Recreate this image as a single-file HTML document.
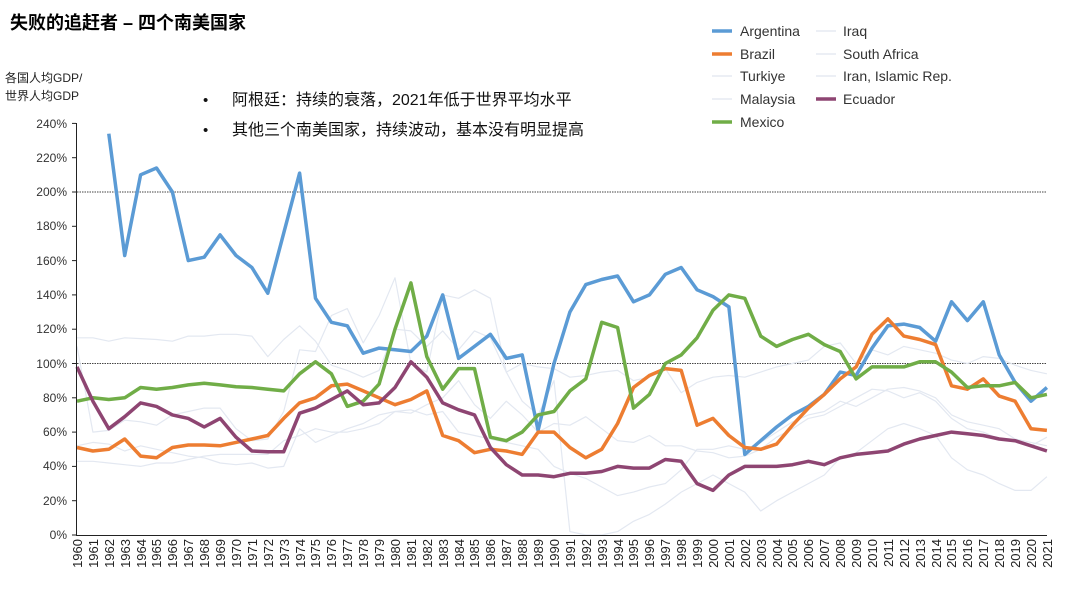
<!DOCTYPE html>
<html><head><meta charset="utf-8"><style>
body{margin:0;background:#fff;}
svg{display:block;font-family:"Liberation Sans","Noto Sans CJK SC",sans-serif;}
</style></head><body>
<svg id="s" width="1080" height="593" viewBox="0 0 1080 593">
<text x="10" y="29" font-size="18" font-weight="bold" fill="#000">失败的追赶者 – 四个南美国家</text>
<text x="5" y="82" font-size="12" fill="#222">各国人均GDP/</text>
<text x="5" y="100" font-size="12" fill="#222">世界人均GDP</text>
<text x="203" y="105" font-size="15" fill="#111">•</text><text x="232" y="105" font-size="16" fill="#111">阿根廷：持续的衰落，2021年低于世界平均水平</text>
<text x="203" y="135" font-size="15" fill="#111">•</text><text x="232" y="135" font-size="16" fill="#111">其他三个南美国家，持续波动，基本没有明显提高</text>
<g font-size="14" fill="#333">
<line x1="712" y1="31" x2="732" y2="31" stroke="#5b9bd5" stroke-width="3.5"/><text x="740" y="36">Argentina</text>
<line x1="712" y1="54" x2="732" y2="54" stroke="#ed7d31" stroke-width="3.5"/><text x="740" y="59">Brazil</text>
<line x1="712" y1="76" x2="732" y2="76" stroke="#e6eaf2" stroke-width="1.5"/><text x="740" y="81">Turkiye</text>
<line x1="712" y1="99" x2="732" y2="99" stroke="#e6eaf2" stroke-width="1.5"/><text x="740" y="104">Malaysia</text>
<line x1="712" y1="122" x2="732" y2="122" stroke="#70ad47" stroke-width="3.5"/><text x="740" y="127">Mexico</text>
<line x1="816" y1="31" x2="836" y2="31" stroke="#e6eaf2" stroke-width="1.5"/><text x="843" y="36">Iraq</text>
<line x1="816" y1="54" x2="836" y2="54" stroke="#e6eaf2" stroke-width="1.5"/><text x="843" y="59">South Africa</text>
<line x1="816" y1="76" x2="836" y2="76" stroke="#e6eaf2" stroke-width="1.5"/><text x="843" y="81">Iran, Islamic Rep.</text>
<line x1="816" y1="99" x2="836" y2="99" stroke="#8e4572" stroke-width="3.5"/><text x="843" y="104">Ecuador</text>
</g>
<g font-size="12" fill="#333" text-anchor="end">
<text x="67" y="539">0%</text><text x="67" y="505">20%</text><text x="67" y="470">40%</text><text x="67" y="436">60%</text><text x="67" y="402">80%</text><text x="67" y="368">100%</text><text x="67" y="333">120%</text><text x="67" y="299">140%</text><text x="67" y="265">160%</text><text x="67" y="230">180%</text><text x="67" y="196">200%</text><text x="67" y="162">220%</text><text x="67" y="128">240%</text>
</g>
<line x1="77" y1="363.5" x2="1047" y2="363.5" stroke="#444" stroke-width="1" stroke-dasharray="1.5,1"/>
<line x1="77" y1="192" x2="1047" y2="192" stroke="#444" stroke-width="1" stroke-dasharray="1.5,1"/>
<g id="lines" fill="none" stroke-linejoin="round"></g>
<line x1="76.5" y1="123" x2="76.5" y2="535" stroke="#222" stroke-width="1"/>
<line x1="76" y1="535.5" x2="1047" y2="535.5" stroke="#222" stroke-width="1"/>
<g id="ticks" stroke="#222"></g>
<g font-size="13" fill="#222" text-anchor="end" id="xl">
<text transform="translate(82,539) rotate(-90)">1960</text><text transform="translate(98,539) rotate(-90)">1961</text><text transform="translate(114,539) rotate(-90)">1962</text><text transform="translate(130,539) rotate(-90)">1963</text><text transform="translate(146,539) rotate(-90)">1964</text><text transform="translate(161,539) rotate(-90)">1965</text><text transform="translate(177,539) rotate(-90)">1966</text><text transform="translate(193,539) rotate(-90)">1967</text><text transform="translate(209,539) rotate(-90)">1968</text><text transform="translate(225,539) rotate(-90)">1969</text><text transform="translate(241,539) rotate(-90)">1970</text><text transform="translate(257,539) rotate(-90)">1971</text><text transform="translate(273,539) rotate(-90)">1972</text><text transform="translate(289,539) rotate(-90)">1973</text><text transform="translate(305,539) rotate(-90)">1974</text><text transform="translate(320,539) rotate(-90)">1975</text><text transform="translate(336,539) rotate(-90)">1976</text><text transform="translate(352,539) rotate(-90)">1977</text><text transform="translate(368,539) rotate(-90)">1978</text><text transform="translate(384,539) rotate(-90)">1979</text><text transform="translate(400,539) rotate(-90)">1980</text><text transform="translate(416,539) rotate(-90)">1981</text><text transform="translate(432,539) rotate(-90)">1982</text><text transform="translate(448,539) rotate(-90)">1983</text><text transform="translate(464,539) rotate(-90)">1984</text><text transform="translate(479,539) rotate(-90)">1985</text><text transform="translate(495,539) rotate(-90)">1986</text><text transform="translate(511,539) rotate(-90)">1987</text><text transform="translate(527,539) rotate(-90)">1988</text><text transform="translate(543,539) rotate(-90)">1989</text><text transform="translate(559,539) rotate(-90)">1990</text><text transform="translate(575,539) rotate(-90)">1991</text><text transform="translate(591,539) rotate(-90)">1992</text><text transform="translate(607,539) rotate(-90)">1993</text><text transform="translate(623,539) rotate(-90)">1994</text><text transform="translate(638,539) rotate(-90)">1995</text><text transform="translate(654,539) rotate(-90)">1996</text><text transform="translate(670,539) rotate(-90)">1997</text><text transform="translate(686,539) rotate(-90)">1998</text><text transform="translate(702,539) rotate(-90)">1999</text><text transform="translate(718,539) rotate(-90)">2000</text><text transform="translate(734,539) rotate(-90)">2001</text><text transform="translate(750,539) rotate(-90)">2002</text><text transform="translate(766,539) rotate(-90)">2003</text><text transform="translate(782,539) rotate(-90)">2004</text><text transform="translate(797,539) rotate(-90)">2005</text><text transform="translate(813,539) rotate(-90)">2006</text><text transform="translate(829,539) rotate(-90)">2007</text><text transform="translate(845,539) rotate(-90)">2008</text><text transform="translate(861,539) rotate(-90)">2009</text><text transform="translate(877,539) rotate(-90)">2010</text><text transform="translate(893,539) rotate(-90)">2011</text><text transform="translate(909,539) rotate(-90)">2012</text><text transform="translate(925,539) rotate(-90)">2013</text><text transform="translate(941,539) rotate(-90)">2014</text><text transform="translate(956,539) rotate(-90)">2015</text><text transform="translate(972,539) rotate(-90)">2016</text><text transform="translate(988,539) rotate(-90)">2017</text><text transform="translate(1004,539) rotate(-90)">2018</text><text transform="translate(1020,539) rotate(-90)">2019</text><text transform="translate(1036,539) rotate(-90)">2020</text><text transform="translate(1052,539) rotate(-90)">2021</text>
</g>
</svg>
<script>
var X=function(i){return 77+i*15.9},Y=function(v){return 535-v*1.715};
var S=[
["#e3e8f1",1.2,0,[115,115,113,115,114.5,114,113,116,116,117,117,116,104,114,122,113,99,96,92,96,120,119,110,119,108,119,115,95,100,98,97,92,93,95,96,90,92,97,83,89,92,93,92,95,98,100,102,110,112,100,108,105,110,108,106,102,100,104,103,99,96,94]],
["#e3e8f1",1.2,0,[110,60,61,67,66,64,70,72,74,74,62,55,56,72,108,107,128,132,112,128,150,100,95,140,138,143,138,95,78,70,90,2,0,0,2,8,12,18,25,30,35,30,25,14,20,25,30,35,45,48,55,62,65,62,58,45,38,35,30,26,26,34]],
["#e3e8f1",1.2,0,[52,54,53,49,52,50,48,46,45,42,41,42,39,40,62,54,58,62,65,70,72,71,76,80,90,76,68,78,70,60,65,64,69,62,55,54,58,52,52,49,48,45,46,50,57,62,68,70,75,80,85,84,80,83,78,68,62,60,56,55,52,57]],
["#e3e8f1",1.2,0,[43,43,42,41,40,42,42,44,46,47,47,47,47,55,58,62,60,60,62,65,72,73,70,72,60,58,56,54,52,50,40,36,33,28,23,25,28,30,38,50,50,52,50,54,60,66,70,72,78,75,80,85,86,84,80,70,66,64,62,56,54,52]],
["#5b9bd5",3.5,2,[234,163,210,214,200,160,162,175,163,156,141,176,211,138,124,122,106,109,108,107,116,140,103,110,117,103,105,61,100,130,146,149,151,136,140,152,156,143,139,133,47,55,63,70,75,82,95,93,109,122,123,121,113,136,125,136,105,89,78,86]],
["#ed7d31",3.5,0,[51,49,50,56,46,45,51,52.5,52.5,52,54,56,58,68,77,80,87,88,84,80,76,79,84,58,55,48,50,49,47,60,60,51,45,50,65,86,93,97,96,64,68,58,51,50,53,64,74,82,91,98,117,126,116,114,111,87,85,91,81,78,62,61]],
["#70ad47",3.5,0,[78,80,79,80,86,85,86,87.5,88.5,87.5,86.5,86,85,84,94,101,94,75,78,88,120,147,104,85,97,97,57,55,60,70,72,84,91,124,121,74,82,100,105,115,131,140,138,116,110,114,117,111,107,91,98,98,98,101,101,95,86,87,87,89,80,82]],
["#8e4572",3.5,0,[98,78,62,69,77,75,70,68,63,68,57,49,48.5,48.5,71,74,79,84,76,77,86,101,92,77,73,70,51,41,35,35,34,36,36,37,40,39,39,44,43,30,26,35,40,40,40,41,43,41,45,47,48,49,53,56,58,60,59,58,56,55,52,49]]];
var g=document.getElementById('lines'),h='';
S.forEach(function(s){var p=s[3].map(function(v,i){return X(i+s[2]).toFixed(1)+','+Y(v).toFixed(1)}).join(' ');
h+='<polyline points="'+p+'" stroke="'+s[0]+'" stroke-width="'+s[1]+'"/>';});
g.innerHTML=h;
var t='';for(var v=0;v<=240;v+=20)t+='<line x1="72" x2="76" y1="'+Y(v)+'" y2="'+Y(v)+'"/>';
document.getElementById('ticks').innerHTML=t;
</script>
</body></html>
